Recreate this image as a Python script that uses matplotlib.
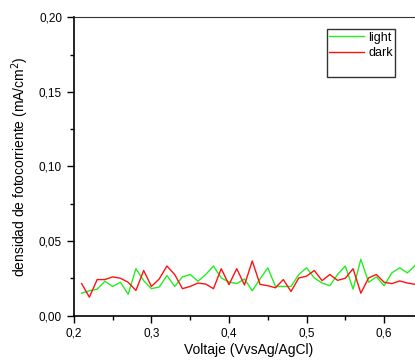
import numpy as np
import matplotlib.pyplot as plt
from matplotlib.lines import Line2D
from matplotlib.ticker import MultipleLocator, FuncFormatter

plt.rcParams['font.family'] = ['Liberation Sans', 'DejaVu Sans']

# voltage from 0.21 to 0.64 V in 0.01 steps
voltaje = [0.21, 0.22, 0.23, 0.24, 0.25, 0.26, 0.27, 0.28, 0.29, 0.30,
           0.31, 0.32, 0.33, 0.34, 0.35, 0.36, 0.37, 0.38, 0.39, 0.40,
           0.41, 0.42, 0.43, 0.44, 0.45, 0.46, 0.47, 0.48, 0.49, 0.50,
           0.51, 0.52, 0.53, 0.54, 0.55, 0.56, 0.57, 0.58, 0.59, 0.60,
           0.61, 0.62, 0.63, 0.64]

light = [0.0150, 0.0166, 0.0177, 0.0230, 0.0195, 0.0223, 0.0143, 0.0314, 0.0234, 0.0180,
         0.0191, 0.0268, 0.0195, 0.0259, 0.0275, 0.0230, 0.0275, 0.0332, 0.0252, 0.0225,
         0.0214, 0.0245, 0.0166, 0.0245, 0.0320, 0.0195, 0.0195, 0.0195, 0.0275, 0.0320,
         0.0252, 0.0218, 0.0200, 0.0275, 0.0332, 0.0177, 0.0377, 0.0223, 0.0259, 0.0200,
         0.0286, 0.0320, 0.0286, 0.0336]

dark = [0.0214, 0.0123, 0.0241, 0.0241, 0.0259, 0.0250, 0.0223, 0.0168, 0.0302, 0.0195,
        0.0245, 0.0332, 0.0275, 0.0180, 0.0195, 0.0218, 0.0211, 0.0180, 0.0314, 0.0207,
        0.0314, 0.0205, 0.0366, 0.0209, 0.0200, 0.0186, 0.0241, 0.0161, 0.0252, 0.0264,
        0.0302, 0.0234, 0.0275, 0.0236, 0.0250, 0.0314, 0.0150, 0.0252, 0.0275, 0.0223,
        0.0214, 0.0232, 0.0218, 0.0209]

fig = plt.figure(figsize=(4.15, 3.61), dpi=100)
ax = fig.add_axes([0.178, 0.126, 0.841, 0.826])

l1, = ax.plot(voltaje, light, color='#22ee22', lw=1.0, label='light')
l2, = ax.plot(voltaje, dark, color='#ff1111', lw=1.0, label='dark')

ax.set_xlim(0.2, 0.65)
ax.set_ylim(0, 0.2)
ax.xaxis.set_major_locator(MultipleLocator(0.1))
ax.xaxis.set_minor_locator(MultipleLocator(0.05))
ax.yaxis.set_major_locator(MultipleLocator(0.05))
ax.yaxis.set_minor_locator(MultipleLocator(0.025))
ax.xaxis.set_major_formatter(FuncFormatter(lambda v, p: f'{v:.1f}'.replace('.', ',')))
ax.yaxis.set_major_formatter(FuncFormatter(lambda v, p: f'{v:.2f}'.replace('.', ',')))

ax.tick_params(which='major', direction='out', length=5, width=1, labelsize=8.5)
ax.tick_params(which='minor', direction='out', length=3, width=1)
for s in ['left', 'bottom']:
    ax.spines[s].set_linewidth(1.2)
ax.spines['top'].set_color('#333333')

ax.set_xlabel('Voltaje (VvsAg/AgCl)', fontsize=10, labelpad=3)
ax.set_ylabel('densidad de fotocorriente (mA/cm$^2$)', fontsize=10, labelpad=6)

# origin-style legend leaves an empty slot at the bottom
blank = Line2D([], [], color='none')
leg = ax.legend([l1, l2, blank], ['light', 'dark', ' '], loc='upper left',
                bbox_to_anchor=(0.725, 0.96), fontsize=9,
                frameon=True, fancybox=False, handlelength=2.8, handletextpad=0.3,
                borderpad=0.2, labelspacing=0.25, borderaxespad=0)
leg.get_frame().set_edgecolor('black')
leg.get_frame().set_linewidth(1.0)

fig.savefig('out.png', dpi=100)
